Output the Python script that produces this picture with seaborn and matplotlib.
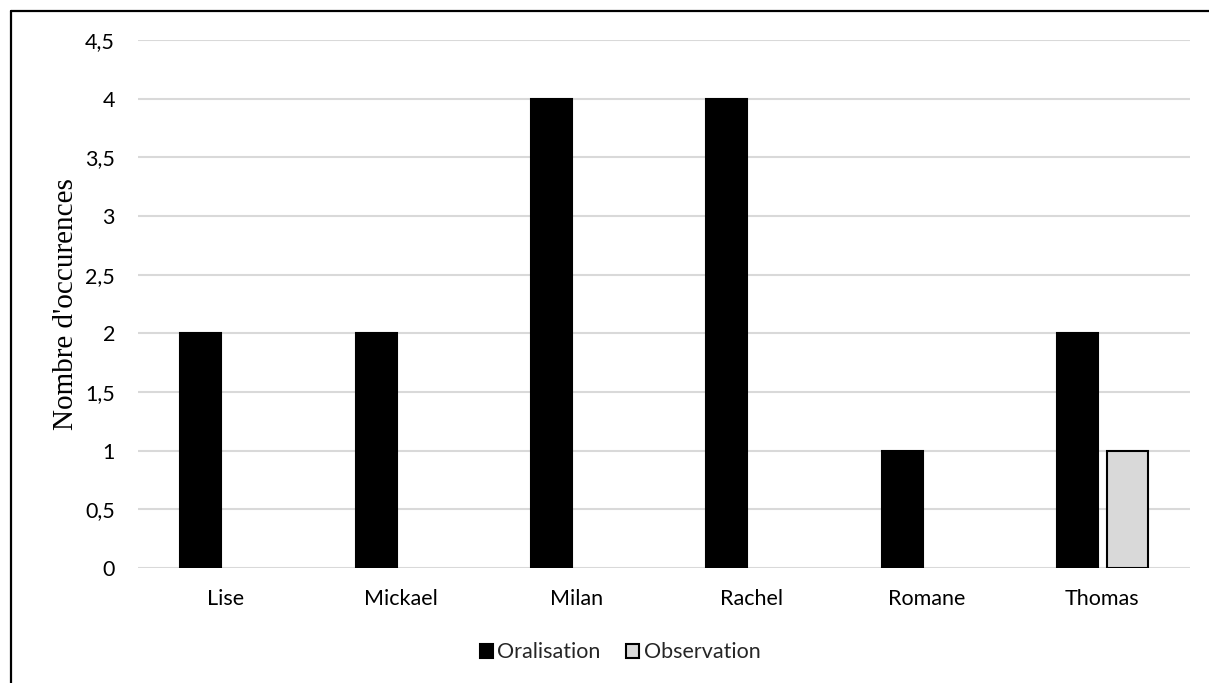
import matplotlib
matplotlib.use("Agg")
import matplotlib.pyplot as plt
import seaborn as sns
import pandas as pd
from matplotlib.lines import Line2D
from matplotlib.ticker import FuncFormatter

# --- data ---
names = ["Lise", "Mickael", "Milan", "Rachel", "Romane", "Thomas"]
oralisation = [2, 2, 4, 4, 1, 2]
observation = [0, 0, 0, 0, 0, 1]
series = ["Oralisation", "Observation"]
colors = ["#000000", "#d9d9d9"]
y_label = "Nombre d'occurences"

df = pd.DataFrame({
    "name": names * 2,
    "value": oralisation + observation,
    "serie": [series[0]] * len(names) + [series[1]] * len(names),
})

sns.set_theme(style="white")
plt.rcParams["font.family"] = ["Lato", "DejaVu Sans"]

fig = plt.figure(figsize=(12.09, 6.83), dpi=100)
ax = fig.add_axes([138 / 1209, 1 - 568 / 683, (1190 - 138) / 1209, (568 - 40) / 683])

sns.barplot(data=df, x="name", y="value", hue="serie", order=names,
            hue_order=series, palette=colors, width=0.57, gap=0.18,
            edgecolor="black", linewidth=1.5, ax=ax, zorder=3)

# remove outline on empty bars
for p in ax.patches:
    if p.get_height() == 0:
        p.set_linewidth(0)

ax.set_ylim(0, 4.5)
ax.set_yticks([i * 0.5 for i in range(10)])
ax.yaxis.set_major_formatter(FuncFormatter(lambda v, _: ("%g" % v).replace(".", ",")))
ax.grid(axis="y", color="#d9d9d9", linewidth=1.5, zorder=0)
ax.set_axisbelow(True)
for s in ax.spines.values():
    s.set_visible(False)
ax.tick_params(axis="both", length=0, labelsize=15.5, colors="black")
ax.tick_params(axis="y", pad=16.5)
ax.tick_params(axis="x", pad=15)
ax.set_xlabel("")
ax.set_ylabel(y_label, family=["Liberation Serif"], fontsize=21, color="black")
ax.yaxis.set_label_coords((79 - 138) / 1052, 0.5)

sns.move_legend(ax, "center", bbox_to_anchor=(0.513, 0.045), bbox_transform=fig.transFigure,
                ncol=2, frameon=False, title=None, fontsize=15.5,
                handlelength=0.6, handleheight=0.6, handletextpad=0.2, columnspacing=1.2)

# outer frame
fig.add_artist(Line2D([10.5 / 1209, 1], [1 - 10.5 / 683] * 2, color="black", linewidth=1.6,
                      transform=fig.transFigure))
fig.add_artist(Line2D([10.5 / 1209] * 2, [0, 1 - 10.5 / 683], color="black", linewidth=1.6,
                      transform=fig.transFigure))

fig.savefig("out.png", dpi=100)
